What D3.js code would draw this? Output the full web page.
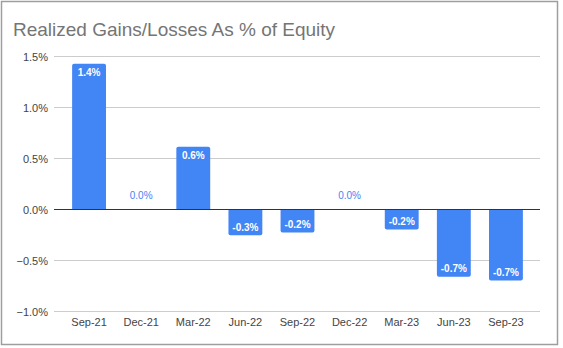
<!DOCTYPE html>
<html><head><meta charset="utf-8">
<script src="https://cdn.jsdelivr.net/npm/d3@7/dist/d3.min.js"></script>
<style>body{margin:0;background:#fff}svg{display:block}</style>
</head><body>
<script>
const categories = ["Sep-21","Dec-21","Mar-22","Jun-22","Sep-22","Dec-22","Mar-23","Jun-23","Sep-23"];
const values = [1.43, 0.0, 0.614, -0.252, -0.226, 0.003, -0.196, -0.66, -0.696];
const labels = ["1.4%","0.0%","0.6%","-0.3%","-0.2%","0.0%","-0.2%","-0.7%","-0.7%"];
const yTicks = [-1.0, -0.5, 0.0, 0.5, 1.0, 1.5];
const title = "Realized Gains/Losses As % of Equity";

const W = 563, H = 348;
const svg = d3.select("body").append("svg").attr("width", W).attr("height", H);
const font = "Arial, 'Liberation Sans', sans-serif";

svg.append("rect").attr("x",1.5).attr("y",1.5).attr("width",556).attr("height",343)
  .attr("fill","#fff").attr("stroke","#9e9e9e").attr("stroke-width",1.5);

svg.append("text").attr("x",13).attr("y",36).text(title)
  .attr("font-family",font).attr("font-size",19).attr("fill","#757575");

const y = d3.scaleLinear().domain([-1.0, 1.5]).range([311.5, 56.5]);
const x = d3.scaleBand().domain(categories).range([63, 532]).paddingInner(0.35).paddingOuter(0.175);

const gridL = 54, gridR = 540;
const yAxis = d3.axisLeft(y).tickValues(yTicks).tickFormat(d => d3.format(".1f")(d) + "%").tickSize(0).tickPadding(6);
const gy = svg.append("g").attr("transform", `translate(${gridL},0)`).call(yAxis);
gy.select(".domain").remove();
gy.selectAll("text").attr("font-family",font).attr("font-size",11).attr("fill","#444");

svg.append("g").selectAll("line").data(yTicks.filter(d => d !== 0)).join("line")
  .attr("x1",gridL).attr("x2",gridR).attr("y1",d=>y(d)).attr("y2",d=>y(d))
  .attr("stroke","#cccccc").attr("stroke-width",1);

const r = 2;
function barPath(d, i) {
  const x0 = x(categories[i]), w = x.bandwidth();
  const y0 = y(0), y1 = y(d);
  const h = Math.abs(y1 - y0);
  const rr = Math.min(r, h);
  if (d >= 0) {
    return `M${x0},${y0} V${y1+rr} Q${x0},${y1} ${x0+rr},${y1} H${x0+w-rr} Q${x0+w},${y1} ${x0+w},${y1+rr} V${y0} Z`;
  } else {
    return `M${x0},${y0} V${y1-rr} Q${x0},${y1} ${x0+rr},${y1} H${x0+w-rr} Q${x0+w},${y1} ${x0+w},${y1-rr} V${y0} Z`;
  }
}
svg.append("g").selectAll("path").data(values).join("path")
  .attr("d", barPath).attr("fill","#4285f4");

svg.append("line").attr("x1",gridL).attr("x2",gridR).attr("y1",y(0)).attr("y2",y(0))
  .attr("stroke","#333").attr("stroke-width",1);

svg.append("g").selectAll("text").data(values).join("text")
  .attr("x",(d,i)=>x(categories[i]) + x.bandwidth()/2)
  .attr("y",(d,i)=>{
    if (Math.abs(d) < 0.05) return y(0) - 11;
    return d > 0 ? y(d) + 12.5 : y(d) - 4.5;
  })
  .attr("text-anchor","middle").attr("font-family",font).attr("font-size",10)
  .attr("font-weight",(d)=>Math.abs(d) < 0.05 ? "normal" : "bold")
  .attr("fill",(d)=>Math.abs(d) < 0.05 ? "#4285f4" : "#ffffff")
  .text((d,i)=>labels[i]);

const xAxis = d3.axisBottom(x).tickSize(0).tickPadding(0);
const gx = svg.append("g").attr("transform","translate(0,318)").call(xAxis);
gx.select(".domain").remove();
gx.selectAll("text").attr("font-family",font).attr("font-size",11).attr("fill","#444");
</script>
</body></html>
